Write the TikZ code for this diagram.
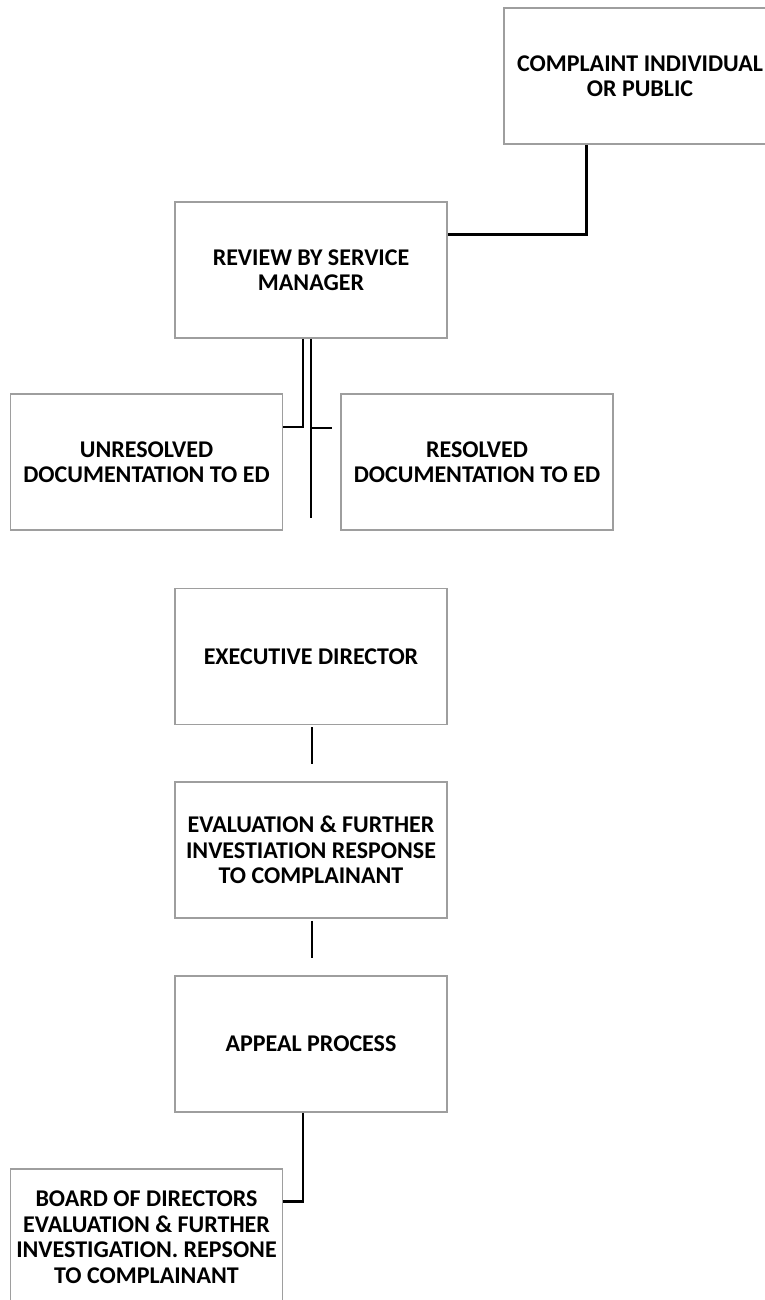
\documentclass[tikz,border=0pt]{standalone}
\usepackage{fontspec}
\setmainfont{Carlito}
\usetikzlibrary{positioning,calc}

\begin{document}
\begin{tikzpicture}[
    x=1pt, y=-1pt,
    box/.style={
        rectangle,
        draw=black!38,
        line width=1.8pt,
        fill=white,
        minimum width=272pt,
        minimum height=136pt,
        inner sep=0pt,
        align=center,
        font=\bfseries\fontsize{24}{25.5}\selectfont
    },
    wire/.style={draw=black, line width=2.4pt},
    gapwire/.style={wire, shorten <=2pt, shorten >=17pt}
]
\useasboundingbox (0,0) rectangle (764,1300);

% ---------------------------------------------------------------- Blocks
\node[box] (complaint)  at (640, 76)    {COMPLAINT INDIVIDUAL\\OR PUBLIC};
\node[box] (review)     at (311, 270)   {REVIEW BY SERVICE\\MANAGER};
\node[box] (unresolved) at (146.5, 462) {UNRESOLVED\\DOCUMENTATION TO ED};
\node[box] (resolved)   at (477, 462)   {RESOLVED\\DOCUMENTATION TO ED};
\node[box] (director)   at (311, 656.5) {EXECUTIVE DIRECTOR};
\node[box] (evaluation) at (311, 850)   {EVALUATION \& FURTHER\\INVESTIATION RESPONSE\\TO COMPLAINANT};
\node[box] (appeal)     at (311, 1044)  {APPEAL PROCESS};
\node[box] (board)      at (146.5, 1237) {BOARD OF DIRECTORS\\EVALUATION \& FURTHER\\INVESTIGATION. REPSONE\\TO COMPLAINANT};

% ---------------------------------------------------------------- Free ends
\coordinate (stub) at (332, 428);
\coordinate (tail) at (311, 518);

% ---------------------------------------------------------------- Connections
% Complaint -> service manager
\draw[wire] ($(complaint.south west)!0.305!(complaint.south east)$)
            |- ($(review.north east)!0.243!(review.south east)$);

% Service manager -> documentation (double line)
\draw[wire] ([xshift=-8pt]review.south)
            |- ($(unresolved.north east)!0.245!(unresolved.south east)$);
\draw[wire] (review.south) -- (tail);
\draw[wire] (stub -| review.south) -- (stub);

% Executive director chain
\draw[gapwire] ([xshift=1pt]director.south) -- ([xshift=1pt]evaluation.north);
\draw[gapwire] ([xshift=1pt]evaluation.south) -- ([xshift=1pt]appeal.north);

% Appeal -> board of directors
\draw[wire] ([xshift=-8pt]appeal.south)
            |- ($(board.north east)!0.243!(board.south east)$);

\end{tikzpicture}
\end{document}
